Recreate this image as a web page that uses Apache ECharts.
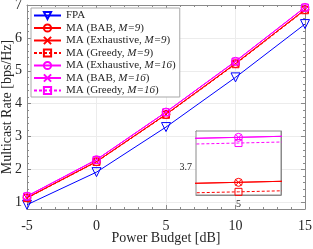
<!DOCTYPE html>
<html><head><meta charset="utf-8">
<script src="https://cdn.jsdelivr.net/npm/echarts@6/dist/echarts.min.js"></script>
<style>html,body{margin:0;padding:0;background:#fff}#c{width:313px;height:249px}</style>
</head><body><div id="c"></div>
<script>
// ---- data ----
const powerBudget = [-5, 0, 5, 10, 15];
const fpa        = [0.93, 1.92, 3.29, 4.80, 6.42];
const babM9      = [1.14, 2.24, 3.676, 5.22, 6.86];
const exhM9      = [1.14, 2.24, 3.676, 5.22, 6.86];
const greedyM9   = [1.13, 2.23, 3.661, 5.20, 6.84];
const exhM16     = [1.19, 2.30, 3.747, 5.29, 6.93];
const babM16     = [1.19, 2.30, 3.747, 5.29, 6.93];
const greedyM16  = [1.18, 2.29, 3.738, 5.28, 6.92];
const seriesNames = ['FPA', 'MA (BAB, M=9)', 'MA (Exhaustive, M=9)', 'MA (Greedy, M=9)',
                     'MA (Exhaustive, M=16)', 'MA (BAB, M=16)', 'MA (Greedy, M=16)'];
const xTickLabels = ['-5', '0', '5', '10', '15'];
const yTickLabels = ['1', '2', '3', '4', '5', '6', '7'];
const insetXLabel = '5';
const insetYLabel = '3.7';
const xTitle = 'Power Budget [dB]';
const yTitle = 'Multicast Rate [bps/Hz]';

// ---- styles ----
const FONT = 'Liberation Serif';
const AX = '#8a8a8a';
const TXT = '#262626';
const X_SYM = 'path://M0,0L10,10M10,0L0,10';
const styles = [
  {color: '#0000ff', symbol: 'triangle', rotate: 180, size: 9, dash: 'solid'},
  {color: '#ff0000', symbol: 'circle', size: 8, dash: 'solid'},
  {color: '#ff0000', symbol: X_SYM, size: 6, dash: 'solid'},
  {color: '#ff0000', symbol: 'rect', size: 7, dash: 'dashed'},
  {color: '#ff00ff', symbol: 'circle', size: 8, dash: 'solid'},
  {color: '#ff00ff', symbol: X_SYM, size: 6, dash: 'solid'},
  {color: '#ff00ff', symbol: 'rect', size: 7, dash: 'dashed'}
];
const values = [fpa, babM9, exhM9, greedyM9, exhM16, babM16, greedyM16];

function mk(i, xi, yi, z) {
  const s = styles[i];
  return {
    name: seriesNames[i], type: 'line', xAxisIndex: xi, yAxisIndex: yi, z: z,
    data: powerBudget.map((x, k) => [x, values[i][k]]),
    symbol: s.symbol, symbolSize: s.size, symbolRotate: s.rotate || 0,
    showAllSymbol: true, clip: true, animation: false,
    lineStyle: {color: s.color, width: 1, type: s.dash === 'dashed' ? [3, 2] : 'solid'},
    itemStyle: {color: 'rgba(0,0,0,0)', borderColor: s.color, borderWidth: 1},
    emphasis: {disabled: true}
  };
}

const series = [];
for (let i = 0; i < 7; i++) series.push(mk(i, 0, 0, 3));
for (let i = 1; i < 7; i++) series.push(mk(i, 2, 4, 10));

const PLOT_W = 278;
const tickLab = {fontFamily: FONT, fontSize: 14, color: TXT};
const nameStyle = {fontFamily: FONT, fontSize: 14, color: TXT};
function yMain(pos, named) {
  return {type: 'value', gridIndex: 0, position: pos, min: 0.8, max: 7, splitNumber: 5,
    axisLine: {show: true, onZero: false, lineStyle: {color: AX, width: 1}},
    axisTick: {show: true, inside: true, length: 4, lineStyle: {color: AX}},
    axisLabel: {show: false},
    splitLine: {show: named, lineStyle: {color: '#ececec', width: 1}},
    name: named ? yTitle : '', nameLocation: 'middle', nameGap: 13, nameMoveOverlap: false,
    nameTextStyle: nameStyle
  };
}
// tick labels of the main y axis, on a twin grid so nothing else shares the axis
const yLabelAxis = {type: 'value', gridIndex: 2, position: 'left', min: 0.8, max: 7, splitNumber: 5,
  axisLine: {show: false, onZero: false}, axisTick: {show: false}, splitLine: {show: false},
  axisLabel: Object.assign({margin: 5, customValues: yTickLabels.map(Number),
    formatter: v => String(Math.round(v))}, tickLab)};
const xTwinAxis = {type: 'value', gridIndex: 2, min: -5, max: 15, show: false};
// minor-tick axes: both placed at the right, one shifted onto the left edge
function yMinor(leftEdge) {
  return {type: 'value', gridIndex: 0, position: 'right', offset: leftEdge ? -PLOT_W : 0,
    min: 0.8, max: 7, interval: 0.2,
    axisLine: {show: false, onZero: false},
    axisTick: {show: true, inside: !leftEdge, length: 2, lineStyle: {color: AX}},
    axisLabel: {show: false}, splitLine: {show: false}};
}
function xMain(pos, labels) {
  return {type: 'value', gridIndex: 0, position: pos, min: -5, max: 15, interval: 5,
    axisLine: {show: true, onZero: false, lineStyle: {color: AX, width: 1}},
    axisTick: {show: true, inside: true, length: 4, lineStyle: {color: AX}},
    minorTick: {show: true, splitNumber: 5, length: 2, lineStyle: {color: AX}},
    axisLabel: labels ? Object.assign({margin: 10, formatter: v => {
      const s = String(Math.round(v)); return xTickLabels.includes(s) ? s : '';
    }}, tickLab) : {show: false},
    splitLine: {show: labels, lineStyle: {color: '#ececec', width: 1}},
    name: labels ? xTitle : '', nameLocation: 'middle', nameGap: 22, nameMoveOverlap: false,
    nameTextStyle: nameStyle
  };
}
const insetLab = {fontFamily: FONT, fontSize: 10, color: TXT};
function xInset(pos, labels) {
  return {type: 'value', gridIndex: 1, position: pos, min: 4.9948, max: 5.0052, splitNumber: 5,
    axisLine: {show: true, onZero: false, lineStyle: {color: AX}},
    axisTick: {show: true, inside: true, length: 2, lineStyle: {color: AX}},
    axisLabel: labels ? Object.assign({margin: 4, customValues: [Number(insetXLabel)], formatter: () => insetXLabel}, insetLab) : {show: false},
    splitLine: {show: labels, lineStyle: {color: '#f0f0f0'}}
  };
}
function yInset(pos, labels) {
  return {type: 'value', gridIndex: 1, position: pos, min: 3.656, max: 3.757, splitNumber: 5,
    axisLine: {show: true, onZero: false, lineStyle: {color: AX}},
    axisTick: {show: true, inside: true, length: 2, lineStyle: {color: AX}},
    axisLabel: labels ? Object.assign({margin: 4, customValues: [Number(insetYLabel)], formatter: () => insetYLabel}, insetLab) : {show: false},
    splitLine: {show: labels, lineStyle: {color: '#f0f0f0'}}
  };
}

const chart = echarts.init(document.getElementById('c'), null, {renderer: 'canvas'});
chart.setOption({
  animation: false,
  backgroundColor: '#fff',
  grid: [
    {left: 27, right: 8, top: 5, bottom: 40, containLabel: false, outerBoundsMode: 'none'},
    {left: 196, top: 131, width: 85, height: 64, show: true, backgroundColor: '#fff', borderColor: AX, borderWidth: 1, z: 8, containLabel: false, outerBoundsMode: 'none'},
    {left: 27, right: 8, top: 5, bottom: 40, containLabel: false, outerBoundsMode: 'none'}
  ],
  xAxis: [xMain('bottom', true), xMain('top', false), xInset('bottom', true), xInset('top', false), xTwinAxis],
  yAxis: [yMain('left', true), yMinor(true), yMain('right', false), yMinor(false),
          yInset('left', true), yInset('right', false), yLabelAxis],
  legend: {
    data: seriesNames, orient: 'vertical', left: 31, top: 8, itemGap: 1.5,
    itemWidth: 27, itemHeight: 9, padding: [2, 4, 1, 2],
    backgroundColor: '#fff', borderColor: '#a8a8a8', borderWidth: 1,
    selectedMode: false, z: 20,
    textStyle: {fontFamily: FONT, fontSize: 11, lineHeight: 10, color: TXT,
      rich: {i: {fontFamily: FONT, fontSize: 11, lineHeight: 10, fontStyle: 'italic', color: TXT}}},
    formatter: n => n.replace(/(M=\d+)/, '{i|$1}')
  },
  series: series
});
</script></body></html>
